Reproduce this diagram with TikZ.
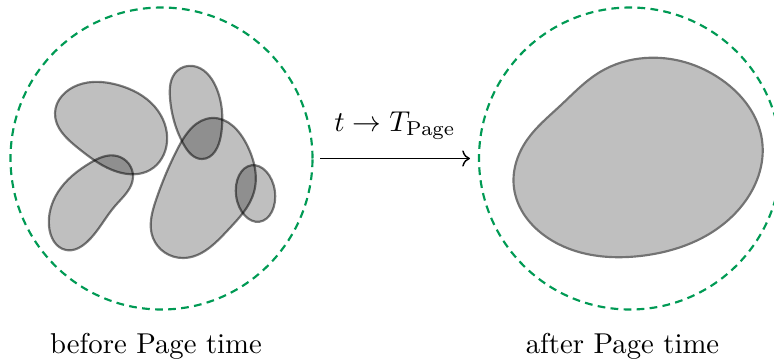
\documentclass[tikz,border=0pt]{standalone}
\usetikzlibrary{arrows.meta,hobby}
\definecolor{dgreen}{RGB}{0,154,84}
\begin{document}
\begin{tikzpicture}[x=0.3484pt,y=-0.3484pt,
  bound/.style={dgreen,line width=0.75pt,dash pattern=on 2.7pt off 1.85pt},
  blob/.style={fill=black,fill opacity=0.25,draw=black,draw opacity=0.5,line width=0.75pt},
  bigblob/.style={fill=black!25,draw=black!55,line width=0.75pt},
  lbl/.style={anchor=base,inner sep=0pt}]
\useasboundingbox (0,0) rectangle (774,363);
% left region
\node[circle,minimum size=302*0.3484pt,inner sep=0pt,bound,draw] (L) at (161.5,158.5) {};
\draw[blob,use Hobby shortcut,closed=true] (55,113)..(78,85)..(118,85)..(155,107)..(167,142)..(150,170)..(118,172)..(78,148)..(55,113);
\draw[blob,use Hobby shortcut,closed=true] (117,156)..(133,177)..(115,206)..(87,242)..(66,250)..(49,226)..(58,192)..(90,163)..(117,156);
\draw[blob,use Hobby shortcut,closed=true] (193,66)..(216,87)..(221,135)..(202,159)..(184,145)..(170,98)..(177,71)..(193,66);
\draw[blob,use Hobby shortcut,closed=true] (212,118)..(247,145)..(254,192)..(228,230)..(183,258)..(153,238)..(156,200)..(178,148)..(212,118);
\draw[blob,rotate around={8:(255.5,193.5)}] (255.5,193.5) ellipse [x radius=19.5, y radius=28.5];
% right region
\node[circle,minimum size=302*0.3484pt,inner sep=0pt,bound,draw] (R) at (630,158.5) {};
\draw[bigblob,use Hobby shortcut,closed=true] (645,58)..(722,80)..(762,140)..(740,208)..(640,256)..(548,238)..(514,188)..(527,140)..(560,106)..(600,72)..(645,58);
% arrow
\coordinate (a1) at (320,158.5);
\coordinate (a2) at (470,158.5);
\draw[->,line width=0.5pt] (a1) -- node[above=3pt] (ar) {$t \to T_{\mathrm{Page}}$} (a2);
% labels
\node[lbl] (bl) at (156,353) {before Page time};
\node[lbl] (al) at (622.5,353) {after Page time};
\end{tikzpicture}
\end{document}
